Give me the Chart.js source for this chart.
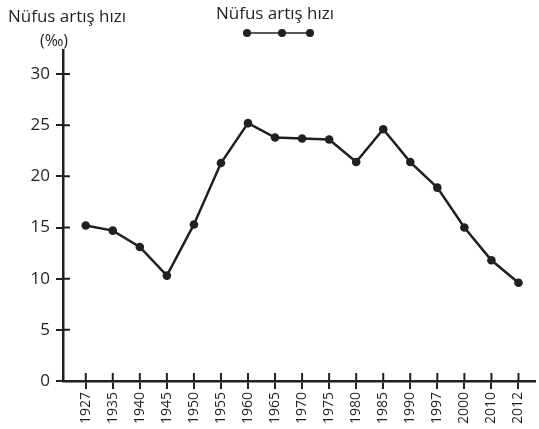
<!DOCTYPE html>
<html>
<head>
<meta charset="utf-8">
<script src="https://cdn.jsdelivr.net/npm/chart.js@4"></script>
<style>
  html, body { margin: 0; padding: 0; background: #fff; }
  #wrap { width: 539px; height: 429px; }
</style>
</head>
<body>
<div id="wrap"><canvas id="c" width="539" height="429"></canvas></div>
<script>
const years = ['1927', '1935', '1940', '1945', '1950', '1955', '1960', '1965', '1970',
               '1975', '1980', '1985', '1990', '1997', '2000', '2010', '2012'];
const rate = [15.2, 14.7, 13.1, 10.3, 15.3, 21.3, 25.2, 23.8, 23.7,
              23.6, 21.4, 24.6, 21.4, 18.9, 15.0, 11.8, 9.6];
const yTicks = [0, 5, 10, 15, 20, 25, 30];
const seriesName = 'Nüfus artış hızı';
const axisTitle = ['Nüfus artış hızı', '(‰)'];

const ink = '#231f20';
const fontFam = '"Open Sans", "Noto Sans", sans-serif';

// ticks on both sides of the axes + titles and legend
const extras = {
  id: 'extras',
  afterDraw(chart) {
    const ctx = chart.ctx;
    const xs = chart.scales.x, ys = chart.scales.y;
    const a = chart.chartArea;
    ctx.save();
    ctx.strokeStyle = ink;
    ctx.lineWidth = 2;
    ctx.beginPath();
    xs.ticks.forEach((t, i) => {
      const px = xs.getPixelForTick(i);
      ctx.moveTo(px, a.bottom);
      ctx.lineTo(px, a.bottom - 8);
    });
    ys.ticks.forEach((t, i) => {
      const py = ys.getPixelForTick(i);
      ctx.moveTo(a.left, py);
      ctx.lineTo(a.left + 7, py);
    });
    ctx.stroke();

    ctx.fillStyle = ink;
    ctx.font = '17px ' + fontFam;
    ctx.textAlign = 'center';
    ctx.textBaseline = 'alphabetic';
    ctx.fillText(axisTitle[0], 67, 22);
    ctx.font = '16px ' + fontFam;
    ctx.fillText(axisTitle[1], 54, 46);

    // legend
    const ds = chart.data.datasets[0];
    ctx.font = '17px ' + fontFam;
    ctx.fillText(ds.label, 275, 19);
    ctx.strokeStyle = ds.borderColor;
    ctx.lineWidth = 1.5;
    ctx.beginPath();
    ctx.moveTo(247, 33);
    ctx.lineTo(310, 33);
    ctx.stroke();
    ctx.fillStyle = ds.pointBackgroundColor;
    [247, 282, 310].forEach(x => {
      ctx.beginPath();
      ctx.arc(x, 33, 4, 0, Math.PI * 2);
      ctx.fill();
    });
    ctx.restore();
  }
};

new Chart(document.getElementById('c'), {
  type: 'line',
  data: {
    datasets: [{
      label: seriesName,
      data: rate.map((v, i) => ({ x: i, y: v })),
      borderColor: ink,
      backgroundColor: ink,
      pointBackgroundColor: ink,
      pointBorderColor: ink,
      borderWidth: 2.5,
      pointBorderWidth: 0,
      pointRadius: 4.3,
      tension: 0
    }]
  },
  options: {
    responsive: false,
    animation: false,
    layout: { padding: { top: 50, right: 0, left: 0, bottom: 0 } },
    plugins: { legend: { display: false }, tooltip: { enabled: false } },
    scales: {
      x: {
        type: 'linear',
        min: -0.84,
        max: 16.6,
        afterBuildTicks: s => { s.ticks = years.map((y, i) => ({ value: i })); },
        afterFit: s => { s.height = 48; },
        grid: { drawOnChartArea: false, tickLength: 8, color: ink, lineWidth: 2 },
        border: { color: ink, width: 2.5 },
        ticks: {
          color: ink,
          font: { family: fontFam, size: 14 },
          minRotation: 90,
          maxRotation: 90,
          padding: 3,
          callback: v => years[v]
        }
      },
      y: {
        min: 0,
        max: 32.35,
        afterBuildTicks: s => { s.ticks = yTicks.map(v => ({ value: v })); },
        afterFit: s => { s.width = 63; },
        grid: { drawOnChartArea: false, tickLength: 7, color: ink, lineWidth: 2 },
        border: { color: ink, width: 2.5 },
        ticks: {
          color: ink,
          font: { family: fontFam, size: 17 },
          padding: 6
        }
      }
    }
  },
  plugins: [extras]
});
</script>
</body>
</html>
